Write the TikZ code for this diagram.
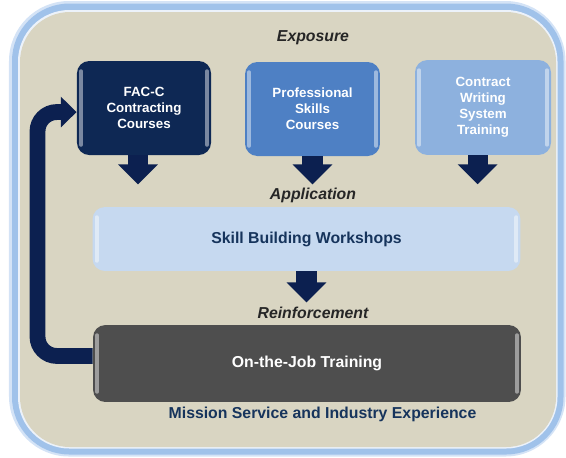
\documentclass[tikz,border=0pt]{standalone}
\usepackage{fontspec}
\setmainfont{Liberation Sans}
\usetikzlibrary{arrows.meta,positioning}
\definecolor{frameblue}{RGB}{160,194,234}
\definecolor{paleframe}{RGB}{236,242,250}
\definecolor{beige}{RGB}{217,213,194}
\definecolor{navy}{RGB}{14,40,84}
\definecolor{midblue}{RGB}{78,128,196}
\definecolor{lightblue}{RGB}{141,177,222}
\definecolor{paleblue}{RGB}{198,217,240}
\definecolor{darkgrey}{RGB}{78,78,78}
\definecolor{arrownavy}{RGB}{12,32,80}
\definecolor{textnavy}{RGB}{22,52,92}
\newcommand{\boxfont}{\bfseries\fontsize{7.6}{9.1}\selectfont}
\newcommand{\stagefont}{\bfseries\itshape\fontsize{9}{11}\selectfont}
\newcommand{\panel}[3]{
	\node[rectangle, rounded corners = 7pt, fill = #3, minimum width = #1, minimum height = #2, align = center, text = white, font = \boxfont]
}
\tikzset{
	downarrow/.style = {arrownavy, line width = 11.4pt, -{Triangle[width = 22pt, length = 11.4pt]}},
	looparrow/.style = {arrownavy, line width = 9pt, rounded corners = 11pt, -{Triangle[width = 17pt, length = 9pt]}},
	stage/.style = {font = \stagefont, text = black!85},
	shine/.style = {white, opacity = 0.45, line width = 2.2pt, line cap = round}
}

\begin{document}
\begin{tikzpicture}
	\useasboundingbox (0,0) rectangle (11.32,-9.14);

		% frame
		\fill[frameblue!45, rounded corners = 1.2cm] (0.18,-0.02) rectangle (11.31,-9.13);
		\fill[frameblue, rounded corners = 1.15cm] (0.24,-0.07) rectangle (11.27,-9.09);
		\fill[paleframe, rounded corners = 1.03cm] (0.36,-0.20) rectangle (11.15,-8.97);
		\fill[beige, rounded corners = 1cm] (0.40,-0.24) rectangle (11.12,-8.94);

		\panel{76.3}{53.5}{navy} (fac) at (2.88,-2.16) {FAC-C\\Contracting\\Courses};
		\panel{76.8}{53.5}{midblue} (prof) at (6.25,-2.18) {Professional\\Skills\\Courses};
		\panel{77.4}{54}{lightblue} (cws) at (9.66,-2.15) {Contract\\Writing\\System\\Training};
		\panel{243.5}{36.4}{paleblue} (skill) at (6.13,-4.78) {\fontsize{9}{11}\selectfont\color{textnavy}Skill Building Workshops};
		\panel{243.5}{43.8}{darkgrey} (ojt) at (6.14,-7.27) {\fontsize{9}{11}\selectfont On-the-Job Training};

		\foreach \n in {fac,prof,cws,skill,ojt} {
			\draw[shine] ([xshift=2.5pt,yshift=-6pt]\n.north west) -- ([xshift=2.5pt,yshift=6pt]\n.south west);
			\draw[shine] ([xshift=-2.5pt,yshift=-6pt]\n.north east) -- ([xshift=-2.5pt,yshift=6pt]\n.south east);
		}

		\node[stage] (exposure) at (6.26,-0.76) {Exposure};
		\node[stage] (application) at (6.26,-3.90) {Application};
		\node[stage] (reinforcement) at (6.26,-6.26) {Reinforcement};
		\node[font = \bfseries\fontsize{9}{11}\selectfont, text = textnavy] (mission) at (6.45,-8.28) {Mission Service and Industry Experience};

		% arrow ends
		\coordinate[below = 0.58cm of fac.south, xshift = -3.4pt] (facend);
		\coordinate[below = 0.56cm of prof.south] (profend);
		\coordinate[below = 0.58cm of cws.south, xshift = -3.1pt] (cwsend);
		\coordinate[below = 0.62cm of skill.south] (skillend);
		\coordinate (loop) at (0.75,-4.5);

		\draw[downarrow] (facend |- fac.south) -- (facend);
		\draw[downarrow] (profend |- prof.south) -- (profend);
		\draw[downarrow] (cwsend |- cws.south) -- (cwsend);
		\draw[downarrow] (skillend |- skill.south) -- (skillend);

		\draw[looparrow] ([yshift=4.3pt]ojt.west) -| (loop) |- ([yshift=-2.3pt]fac.west);
	\end{tikzpicture}
\end{document}
